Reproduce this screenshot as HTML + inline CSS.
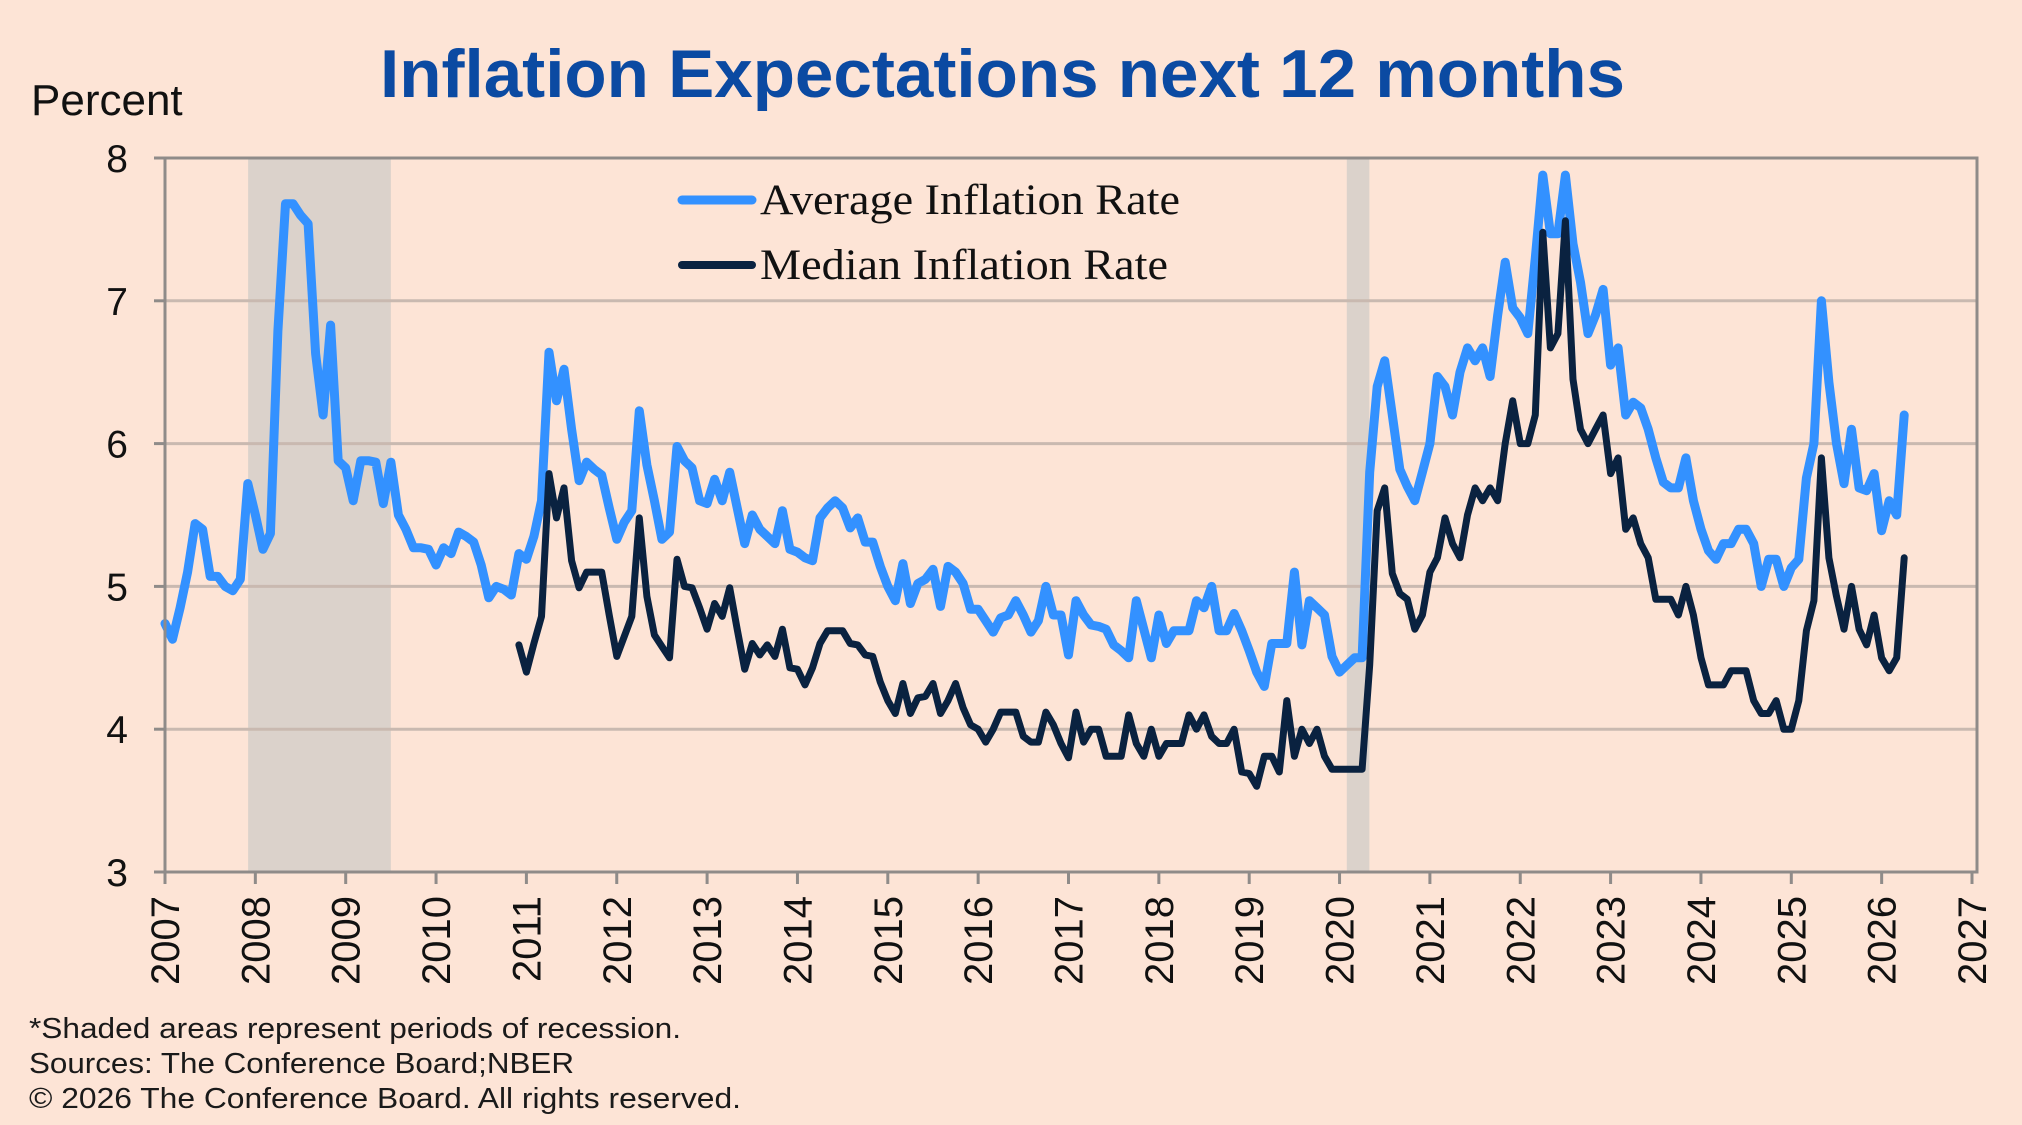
<!DOCTYPE html>
<html><head><meta charset="utf-8"><style>
html,body{margin:0;padding:0;background:#fde4d6;}
svg{display:block;font-family:"Liberation Sans",Arial,sans-serif;}
</style></head><body>
<svg id="chart" width="2022" height="1125" viewBox="0 0 2022 1125" xmlns="http://www.w3.org/2000/svg">
<rect x="0" y="0" width="2022" height="1125" fill="#fde4d6"/>
<text x="380" y="97" font-size="68" font-weight="bold" fill="#0b4aa2" textLength="1245" lengthAdjust="spacingAndGlyphs">Inflation Expectations next 12 months</text>
<text x="31" y="115" font-size="44" fill="#111">Percent</text>
<g id="recessions"></g>
<g id="grid"></g>
<g id="series"></g>
<g id="axes"></g>
<g>
  <line x1="682" y1="200" x2="752" y2="200" stroke="#3391ff" stroke-width="9" stroke-linecap="round"/>
  <text x="760" y="214" font-family="'Liberation Serif',serif" font-size="43" fill="#111" textLength="420" lengthAdjust="spacingAndGlyphs">Average Inflation Rate</text>
  <line x1="682" y1="265" x2="752" y2="265" stroke="#0a2240" stroke-width="8" stroke-linecap="round"/>
  <text x="760" y="279" font-family="'Liberation Serif',serif" font-size="43" fill="#111" textLength="408" lengthAdjust="spacingAndGlyphs">Median Inflation Rate</text>
</g>
<g font-size="29" fill="#1a1a1a">
  <text x="29" y="1038" textLength="652" lengthAdjust="spacingAndGlyphs">*Shaded areas represent periods of recession.</text>
  <text x="29" y="1073" textLength="545" lengthAdjust="spacingAndGlyphs">Sources: The Conference Board;NBER</text>
  <text x="29" y="1108" textLength="712" lengthAdjust="spacingAndGlyphs">© 2026 The Conference Board. All rights reserved.</text>
</g>
</svg>
<script>
const startYear = 2007;
const yearTicks = [2007,2008,2009,2010,2011,2012,2013,2014,2015,2016,2017,2018,2019,2020,2021,2022,2023,2024,2025,2026,2027];
const valueTicks = [3,4,5,6,7,8];
const recessionStarts = [2007.92, 2020.08];
const recessionEnds = [2009.5, 2020.33];
// monthly from Jan 2007
const averageRate = [
4.74,4.63,4.85,5.1,5.44,5.4,5.07,5.07,5.0,4.97,5.05,5.72,
5.5,5.26,5.37,6.79,7.68,7.68,7.6,7.54,6.63,6.2,6.83,5.88,
5.83,5.6,5.88,5.88,5.87,5.58,5.87,5.5,5.4,5.27,5.27,5.26,
5.15,5.27,5.23,5.38,5.35,5.31,5.15,4.92,5.0,4.98,4.94,5.23,
5.19,5.35,5.6,6.64,6.3,6.52,6.1,5.74,5.87,5.82,5.78,5.55,
5.33,5.45,5.53,6.23,5.85,5.6,5.33,5.38,5.98,5.88,5.83,5.6,
5.58,5.75,5.6,5.8,5.55,5.3,5.5,5.4,5.35,5.3,5.53,5.26,
5.24,5.2,5.18,5.48,5.55,5.6,5.55,5.41,5.48,5.31,5.31,5.14,
5.0,4.9,5.16,4.88,5.02,5.05,5.12,4.86,5.14,5.1,5.02,4.84,
4.84,4.76,4.68,4.78,4.8,4.9,4.8,4.68,4.76,5.0,4.8,4.8,
4.52,4.9,4.8,4.73,4.72,4.7,4.59,4.55,4.5,4.9,4.7,4.5,
4.8,4.6,4.69,4.69,4.69,4.9,4.85,5.0,4.69,4.69,4.81,4.69,
4.55,4.4,4.3,4.6,4.6,4.6,5.1,4.59,4.9,4.85,4.8,4.51,
4.4,4.45,4.5,4.5,5.8,6.4,6.58,6.2,5.82,5.7,5.6,5.8,
6.0,6.47,6.4,6.2,6.5,6.67,6.58,6.67,6.47,6.9,7.27,6.95,
6.88,6.77,7.3,7.88,7.47,7.47,7.88,7.4,7.13,6.77,6.9,7.08,
6.55,6.67,6.2,6.29,6.25,6.1,5.9,5.73,5.69,5.69,5.9,5.6,
5.4,5.25,5.19,5.3,5.3,5.4,5.4,5.3,5.0,5.19,5.19,5.0,
5.13,5.19,5.76,6.0,7.0,6.43,6.0,5.72,6.1,5.69,5.67,5.79,
5.39,5.6,5.5,6.2
];
const medianStartIndex = 47; // Dec 2010
const medianRate = [
4.59,
4.4,4.6,4.79,5.79,5.48,5.69,5.18,4.99,5.1,5.1,5.1,4.8,
4.51,4.65,4.79,5.48,4.93,4.66,4.58,4.5,5.19,5.0,4.99,4.85,
4.7,4.88,4.79,4.99,4.7,4.42,4.6,4.52,4.59,4.51,4.7,4.43,
4.42,4.31,4.43,4.6,4.69,4.69,4.69,4.6,4.59,4.52,4.51,4.33,
4.2,4.11,4.32,4.11,4.22,4.23,4.32,4.11,4.2,4.32,4.15,4.03,
4.0,3.91,4.0,4.12,4.12,4.12,3.95,3.91,3.91,4.12,4.03,3.9,
3.8,4.12,3.91,4.0,4.0,3.81,3.81,3.81,4.1,3.9,3.81,4.0,
3.81,3.9,3.9,3.9,4.1,4.0,4.1,3.95,3.9,3.9,4.0,3.7,
3.69,3.6,3.81,3.81,3.7,4.2,3.81,4.0,3.9,4.0,3.81,3.72,
3.72,3.72,3.72,3.72,4.45,5.53,5.69,5.09,4.95,4.91,4.7,4.8,
5.1,5.2,5.48,5.3,5.2,5.5,5.69,5.6,5.69,5.6,6.0,6.3,
6.0,6.0,6.2,7.48,6.67,6.77,7.56,6.45,6.1,6.0,6.1,6.2,
5.79,5.9,5.4,5.48,5.3,5.2,4.91,4.91,4.91,4.8,5.0,4.8,
4.5,4.31,4.31,4.31,4.41,4.41,4.41,4.2,4.11,4.11,4.2,4.0,
4.0,4.2,4.69,4.9,5.9,5.2,4.93,4.7,5.0,4.7,4.59,4.8,
4.5,4.41,4.5,5.2
];

const NS = "http://www.w3.org/2000/svg";
const X0 = 165, X1 = 1972, Y8 = 158, Y3 = 872;
function xScale(yr){ return X0 + (yr - 2007) / 20 * (X1 - X0); }
function yScale(v){ return Y3 - (v - 3) / 5 * (Y3 - Y8); }
function mk(tag, attrs, parent){ const e = document.createElementNS(NS, tag); for (const k in attrs) e.setAttribute(k, attrs[k]); parent.appendChild(e); return e; }

const recG = document.getElementById('recessions');
recessionStarts.forEach((s, i) => {
  const r = mk('rect', {x: xScale(s), y: Y8, width: xScale(recessionEnds[i]) - xScale(s), height: Y3 - Y8, fill: '#dbd2cb'}, recG);
  
  
});

const gridG = document.getElementById('grid');
valueTicks.forEach(v => {
  if (v === 3 || v === 8) return;
  const l = mk('line', {x1: X0, x2: 1977, y1: yScale(v), y2: yScale(v), stroke: '#c9b9b0', 'stroke-width': 3}, gridG);
  
  
});

function linePath(vals, startIdx){
  return vals.map((v, i) => {
    const yr = startYear + (startIdx + i) / 12;
    return (i ? 'L' : 'M') + xScale(yr).toFixed(1) + ',' + yScale(v).toFixed(1);
  }).join(' ');
}
const serG = document.getElementById('series');
const pa = mk('path', {d: linePath(averageRate, 0), fill: 'none', stroke: '#3391ff', 'stroke-width': 9, 'stroke-linejoin': 'round', 'stroke-linecap': 'round'}, serG);


const pm = mk('path', {d: linePath(medianRate, medianStartIndex), fill: 'none', stroke: '#0a2240', 'stroke-width': 7, 'stroke-linejoin': 'round', 'stroke-linecap': 'round'}, serG);



const axG = document.getElementById('axes');
const frame = mk('rect', {x: X0, y: Y8, width: 1977 - X0, height: Y3 - Y8, fill: 'none', stroke: '#8f8b89', 'stroke-width': 3}, axG);


valueTicks.forEach(v => {
  const t = mk('line', {x1: 154, x2: X0, y1: yScale(v), y2: yScale(v), stroke: '#8f8b89', 'stroke-width': 3}, axG);
  
  
  const lb = mk('text', {x: 128, y: yScale(v) + 14, 'text-anchor': 'end', 'font-size': 39, fill: '#111'}, axG);
  lb.textContent = v;
  
  
});
yearTicks.forEach(yr => {
  const x = xScale(yr);
  const t = mk('line', {x1: x, x2: x, y1: Y3, y2: Y3 + 12, stroke: '#8f8b89', 'stroke-width': 3}, axG);
  
  
  const lb = mk('text', {x: 0, y: 0, 'text-anchor': 'end', 'font-size': 40, fill: '#111', transform: 'translate(' + (x + 14) + ',' + (Y3 + 24) + ') rotate(-90)'}, axG);
  lb.textContent = yr;
  
  
});
</script>
</body></html>
